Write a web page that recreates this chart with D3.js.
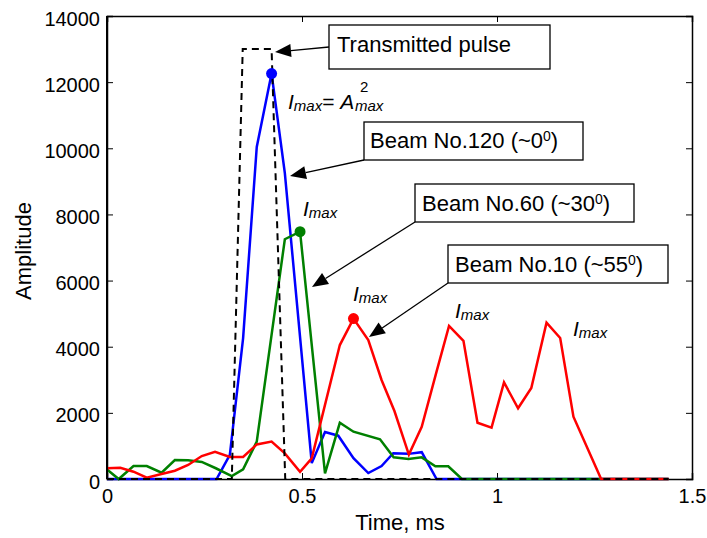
<!DOCTYPE html>
<html>
<head>
<meta charset="utf-8">
<script src="https://cdn.jsdelivr.net/npm/d3@7"></script>
<style>
  body { margin: 0; background: #fff; }
  svg { display: block; }
  text { font-family: "Liberation Sans", Arial, sans-serif; fill: #000; }
</style>
</head>
<body>
<div id="chart"></div>
<script>
// values (time in ms, amplitude)
const pulseT = [0, 0.32, 0.348, 0.422, 0.457, 1.44];
const pulseA = [0, 0, 13000, 13000, 0, 0];

const blueT = [0, 0.281, 0.315, 0.349, 0.384, 0.422, 0.456, 0.525, 0.559, 0.593, 0.632, 0.670, 0.704, 0.734, 0.773, 0.807, 0.845, 1.44];
const blueA = [0, 0, 730, 4260, 10040, 12260, 9250, 480, 1420, 1310, 630, 180, 390, 780, 760, 810, 0, 0];

const greenT = [0, 0.030, 0.068, 0.102, 0.140, 0.174, 0.208, 0.243, 0.279, 0.320, 0.349, 0.384, 0.456, 0.495, 0.559, 0.597, 0.632, 0.700, 0.735, 0.773, 0.807, 0.842, 0.875, 0.910, 1.44];
const greenA = [290, 0, 390, 390, 190, 575, 565, 515, 325, 90, 290, 1130, 7250, 7480, 170, 1700, 1430, 1200, 655, 605, 655, 385, 385, 0, 0];

const redT = [0, 0.034, 0.068, 0.102, 0.140, 0.174, 0.208, 0.243, 0.277, 0.315, 0.349, 0.384, 0.422, 0.456, 0.495, 0.525, 0.597, 0.632, 0.670, 0.704, 0.737, 0.774, 0.807, 0.845, 0.877, 0.914, 0.950, 0.986, 1.018, 1.054, 1.088, 1.127, 1.162, 1.196, 1.267, 1.44];
const redA = [325, 340, 220, 40, 150, 250, 425, 695, 825, 665, 665, 1045, 1130, 775, 220, 625, 4050, 4850, 4200, 2995, 2055, 740, 1580, 3245, 4630, 4180, 1700, 1555, 2920, 2140, 2750, 4725, 4265, 1885, 0, 0];

// the marked maxima
const peakT = [0.422, 0.495, 0.632];
const peakA = [12260, 7480, 4850];
const peakColors = ["#0000ff", "#008000", "#ff0000"];

const xTicks = [0, 0.5, 1, 1.5];
const yTicks = [0, 2000, 4000, 6000, 8000, 10000, 12000, 14000];

const margin = {top: 16, right: 15, bottom: 59, left: 107},
    width = 707 - margin.left - margin.right,
    height = 538 - margin.top - margin.bottom;

const root = d3.select("#chart")
    .append("svg")
    .attr("width", 707)
    .attr("height", 538);

root.append("rect").attr("width", 707).attr("height", 538).attr("fill", "#fff");

const svg = root.append("g")
    .attr("transform", `translate(${margin.left},${margin.top})`);

const x = d3.scaleLinear().domain([0, 1.5]).range([0, width]);
const y = d3.scaleLinear().domain([0, 14000]).range([height, 0]);

// frame + ticks pointing inwards (matlab style)
svg.append("g")
    .attr("transform", `translate(0,${height})`)
    .call(d3.axisBottom(x).tickValues(xTicks).tickFormat(d3.format("")).tickSize(-6).tickPadding(10))
    .call(g => g.selectAll("text").attr("font-size", 20).style("font-family", '"Liberation Sans", Arial, sans-serif'));
svg.append("g")
    .call(d3.axisTop(x).tickValues(xTicks).tickSize(-6).tickFormat(""));
svg.append("g")
    .call(d3.axisLeft(y).tickValues(yTicks).tickFormat(d3.format("d")).tickSize(-6).tickPadding(7))
    .call(g => g.selectAll("text").attr("font-size", 20).attr("dy", "0.45em").style("font-family", '"Liberation Sans", Arial, sans-serif'));
svg.append("g")
    .attr("transform", `translate(${width},0)`)
    .call(d3.axisRight(y).tickValues(yTicks).tickSize(-6).tickFormat(""));

svg.selectAll(".domain").attr("stroke", "#000").attr("stroke-width", 1.5);
svg.selectAll(".tick line").attr("stroke", "#000");

const line = d3.line().x(d => x(d[0])).y(d => y(d[1]));

const series = [
    {t: blueT, a: blueA, color: "#0000ff"},
    {t: greenT, a: greenA, color: "#008000"},
    {t: redT, a: redA, color: "#ff0000"}
];

series.forEach(s => {
    svg.append("path")
        .datum(d3.zip(s.t, s.a))
        .attr("fill", "none")
        .attr("stroke", s.color)
        .attr("stroke-width", 2.5)
        .attr("stroke-linejoin", "miter")
        .attr("d", line);
});

svg.append("path")
    .datum(d3.zip(pulseT, pulseA))
    .attr("fill", "none")
    .attr("stroke", "#000")
    .attr("stroke-width", 2)
    .attr("stroke-dasharray", "7,5")
    .attr("d", line);

svg.append("g")
    .selectAll("circle")
    .data(d3.zip(peakT, peakA, peakColors))
    .join("circle")
    .attr("cx", d => x(d[0]))
    .attr("cy", d => y(d[1]))
    .attr("r", 5.5)
    .attr("fill", d => d[2]);

// left axis drawn a bit heavier
svg.append("line").attr("x1", 0).attr("x2", 0).attr("y1", 0).attr("y2", height)
    .attr("stroke", "#000").attr("stroke-width", 2);

// axis titles
root.append("text")
    .attr("x", 400).attr("y", 530)
    .attr("text-anchor", "middle")
    .attr("font-size", 22)
    .text("Time, ms");

root.append("text")
    .attr("transform", "translate(31,251) rotate(-90)")
    .attr("text-anchor", "middle")
    .attr("font-size", 22)
    .text("Amplitude");

// annotation boxes with arrows (page pixels)
const boxes = [
    {x: 329, y: 25, w: 221, h: 44, tx: 337, ty: 52, main: "Transmitted pulse", sup: null, from: [329, 47], tip: [275, 52]},
    {x: 364, y: 122, w: 219, h: 38, tx: 370, ty: 148, main: "Beam No.120 (~0", sup: "0", from: [364, 160], tip: [290, 176]},
    {x: 415, y: 184, w: 219, h: 38, tx: 422, ty: 211, main: "Beam No.60 (~30", sup: "0", from: [415, 222], tip: [312, 287]},
    {x: 448, y: 245, w: 220, h: 38, tx: 455, ty: 272, main: "Beam No.10 (~55", sup: "0", from: [448, 283], tip: [369, 337]}
];

const ann = root.append("g");

boxes.forEach(b => {
    ann.append("rect")
        .attr("x", b.x).attr("y", b.y).attr("width", b.w).attr("height", b.h)
        .attr("fill", "#fff").attr("stroke", "#000").attr("stroke-width", 1.3);
    const t = ann.append("text").attr("x", b.tx).attr("y", b.ty).attr("font-size", 22);
    t.append("tspan").text(b.main);
    if (b.sup) {
        t.append("tspan").attr("font-size", 14).attr("dy", -7).text(b.sup);
        t.append("tspan").attr("dy", 7).text(")");
    }
    // arrow: line + filled head
    const dx = b.tip[0] - b.from[0], dy = b.tip[1] - b.from[1];
    const len = Math.sqrt(dx * dx + dy * dy);
    const ux = dx / len, uy = dy / len;
    const L = 16, W = 6.5;
    const bx = b.tip[0] - ux * L, by = b.tip[1] - uy * L;
    ann.append("line")
        .attr("x1", b.from[0]).attr("y1", b.from[1]).attr("x2", bx).attr("y2", by)
        .attr("stroke", "#000").attr("stroke-width", 1.3);
    ann.append("path")
        .attr("d", `M${b.tip[0]},${b.tip[1]} L${bx - uy * W},${by + ux * W} L${bx + uy * W},${by - ux * W} Z`)
        .attr("fill", "#000");
});

// I_max labels
function imax(px, py) {
    const t = ann.append("text").attr("x", px).attr("y", py).attr("font-style", "italic");
    t.append("tspan").attr("font-size", 21).text("I");
    t.append("tspan").attr("font-size", 15).attr("dy", 2).text("max");
    return t;
}
const eq = imax(288, 109);
eq.append("tspan").attr("font-size", 21).attr("font-style", "normal").attr("dy", -2).text("= ");
eq.append("tspan").attr("font-size", 21).text("A");
ann.append("text").attr("x", 355).attr("y", 111).attr("font-size", 15).attr("font-style", "italic").text("max");
ann.append("text").attr("x", 360).attr("y", 92).attr("font-size", 15).text("2");

imax(303, 216);
imax(353, 301);
imax(455, 318);
imax(573, 336);
</script>
</body>
</html>
